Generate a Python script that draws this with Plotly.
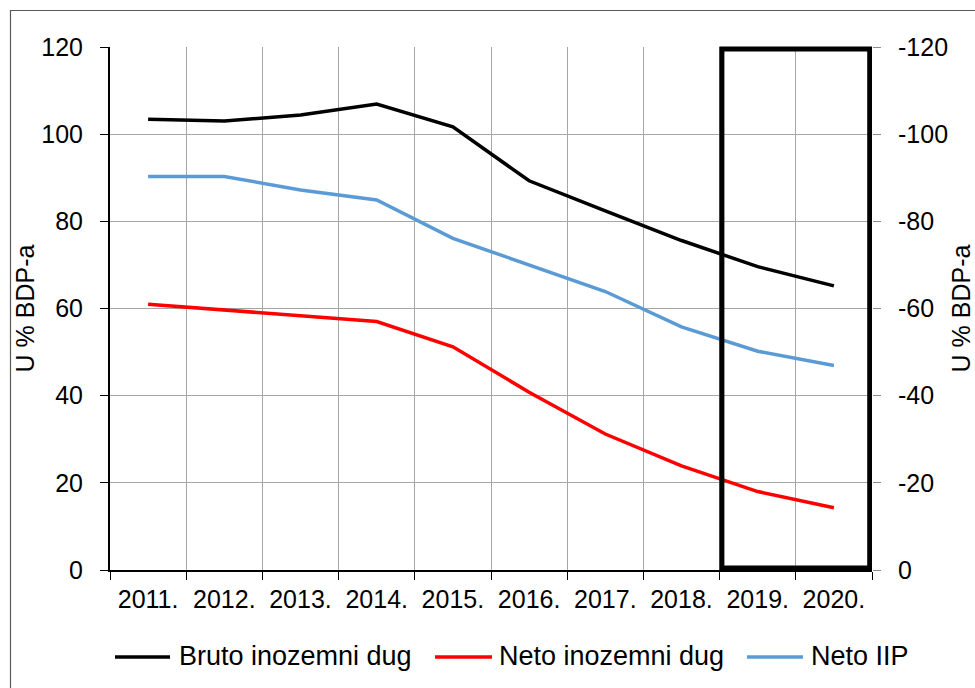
import plotly.graph_objects as go

years = ["2011.", "2012.", "2013.", "2014.", "2015.", "2016.", "2017.", "2018.", "2019.", "2020."]
bruto_dug = [103.4, 103.0, 104.4, 106.9, 101.7, 89.3, 82.4, 75.6, 69.6, 65.2]
neto_dug = [61.0, 59.7, 58.5, 57.0, 51.2, 40.8, 31.2, 23.9, 18.0, 14.3]
neto_iip = [-90.3, -90.3, -87.2, -84.9, -76.1, -70.0, -63.9, -55.8, -50.2, -46.9]
names = ["Bruto inozemni dug", "Neto inozemni dug", "Neto IIP"]
colors = ["#000000", "#ff0000", "#5b9bd5"]
left_ticks = [0, 20, 40, 60, 80, 100, 120]
right_ticks = [0, -20, -40, -60, -80, -100, -120]

W, H = 975, 688
L, R, T, B = 110, 103, 47, 118
PW, PH = W - L - R, H - T - B
FONT = "Arial, Liberation Sans, sans-serif"
TICK = 25

def px(x):
    return (x - L) / PW

def py(y):
    return (H - B - y) / PH

fig = go.Figure()
fig.add_trace(go.Scatter(x=years, y=bruto_dug, name=names[0], mode="lines",
                         line=dict(color=colors[0], width=3.5), showlegend=False))
fig.add_trace(go.Scatter(x=years, y=neto_dug, name=names[1], mode="lines",
                         line=dict(color=colors[1], width=3.5), showlegend=False))
fig.add_trace(go.Scatter(x=years, y=neto_iip, name=names[2], mode="lines", yaxis="y2",
                         line=dict(color=colors[2], width=3.5), showlegend=False))

shapes = []
annotations = []
# outer chart border
shapes.append(dict(type="rect", xref="paper", yref="paper",
                   x0=px(10.5), x1=px(W + 5), y0=py(H + 5), y1=py(10.5),
                   line=dict(color="#595959", width=1.2), layer="below"))
# highlight box over 2019-2020
shapes.append(dict(type="rect", xref="x", yref="paper",
                   x0=7.53, x1=9.47, y0=py(568), y1=py(49),
                   line=dict(color="#000000", width=5), layer="above"))

# manual legend
leg_y = py(657)
leg = [(115, 170, 177), (435, 492, 497), (747, 803, 809)]
for (x0, x1, tx), nm, c in zip(leg, names, colors):
    shapes.append(dict(type="line", xref="paper", yref="paper",
                       x0=px(x0), x1=px(x1), y0=leg_y, y1=leg_y,
                       line=dict(color=c, width=3.5)))
    annotations.append(dict(xref="paper", yref="paper", x=px(tx), y=py(656),
                            text=nm, showarrow=False, xanchor="left", yanchor="middle",
                            font=dict(family=FONT, size=27, color="#000000")))

fig.update_layout(
    width=W, height=H,
    margin=dict(l=L, r=R, t=T, b=B, pad=0, autoexpand=False),
    paper_bgcolor="#ffffff", plot_bgcolor="#ffffff",
    font=dict(family=FONT, size=TICK, color="#000000"),
    showlegend=False,
    shapes=shapes,
    annotations=annotations,
    xaxis=dict(
        type="category", range=[-0.5, 9.5], tickson="boundaries",
        showgrid=True, gridcolor="#a6a6a6", gridwidth=1.2,
        showline=True, linecolor="#000000", linewidth=2,
        ticks="outside", ticklen=8, tickcolor="#000000", tickwidth=1.2,
        tickfont=dict(family=FONT, size=TICK), ticklabelstandoff=6,
        zeroline=False, fixedrange=True, automargin=False,
    ),
    yaxis=dict(
        range=[0, 120], tickvals=left_ticks, ticktext=[str(v) for v in left_ticks],
        showgrid=True, gridcolor="#a6a6a6", gridwidth=1.2,
        showline=True, linecolor="#000000", linewidth=2,
        ticks="outside", ticklen=8, tickcolor="#000000", tickwidth=1.2,
        tickfont=dict(family=FONT, size=TICK), ticklabelstandoff=12,
        title=dict(text="U % BDP-a", font=dict(family=FONT, size=25), standoff=0),
        zeroline=False, fixedrange=True, automargin=False,
    ),
    yaxis2=dict(
        overlaying="y", side="right", range=[0, -120],
        tickvals=right_ticks, ticktext=[str(v) for v in right_ticks],
        showgrid=False, showline=False, zeroline=False,
        ticks="outside", ticklen=8, tickcolor="#8c8c8c", tickwidth=1.2,
        tickfont=dict(family=FONT, size=TICK), ticklabelstandoff=12,
        title=dict(text="U % BDP-a", font=dict(family=FONT, size=25), standoff=10),
        fixedrange=True, automargin=False,
    ),
)

fig.write_html("out.html", config={"displayModeBar": False},
               post_script="document.body.style.margin='0px';document.body.style.overflow='hidden';")
